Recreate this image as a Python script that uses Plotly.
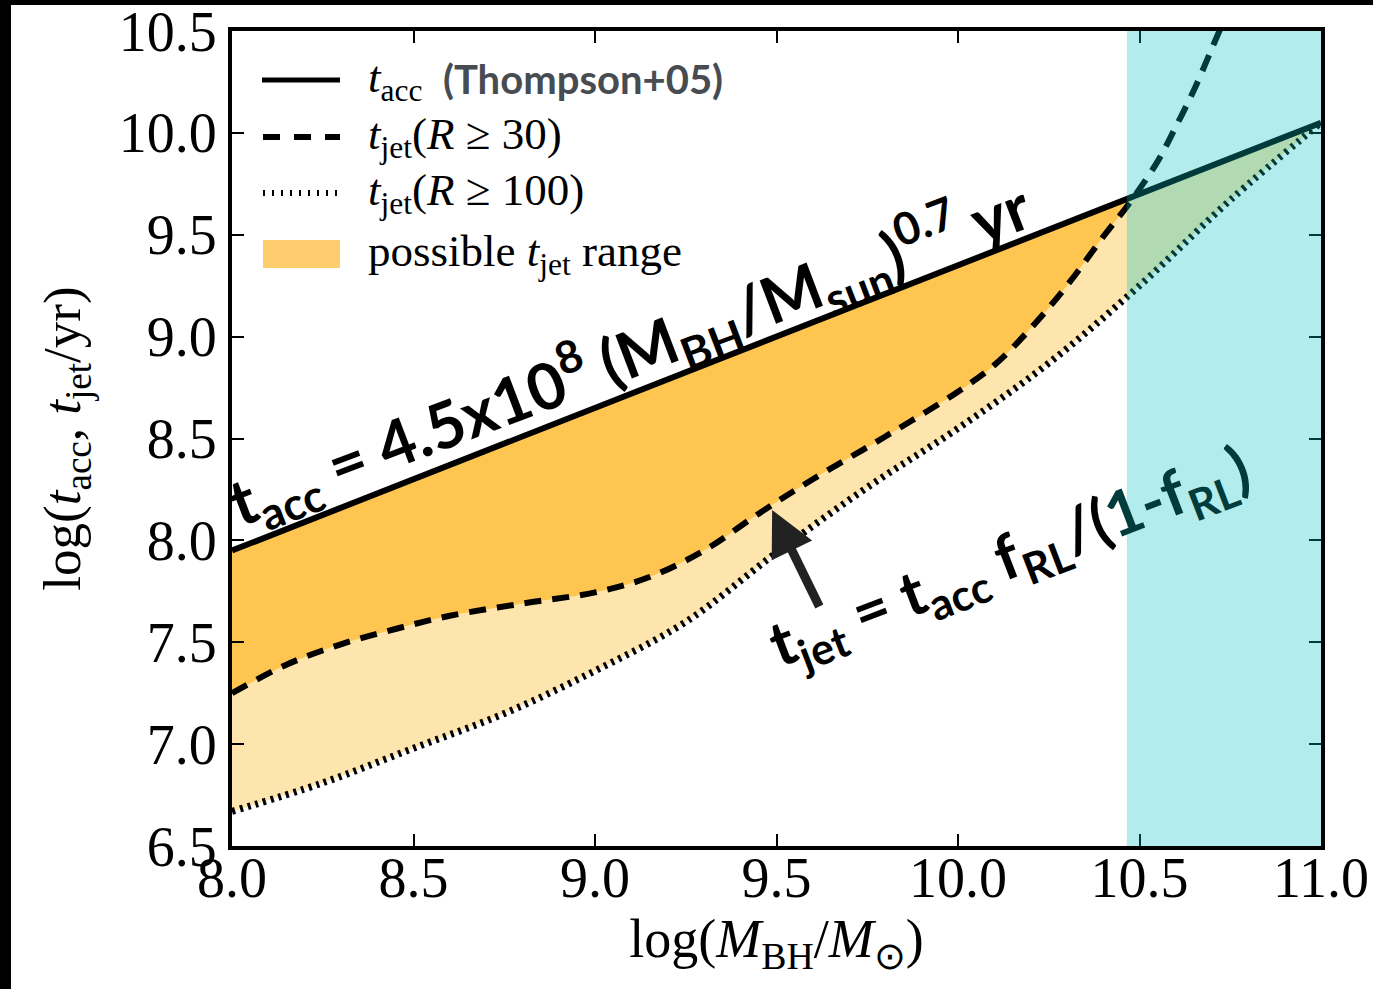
import plotly.graph_objects as go

# ---------------- data ----------------
X_TICKS = [8.0, 8.5, 9.0, 9.5, 10.0, 10.5, 11.0]
Y_TICKS = [6.5, 7.0, 7.5, 8.0, 8.5, 9.0, 9.5, 10.0, 10.5]

# t_acc (Thompson+05), solid line
SOLID_X = [8.0, 10.47, 11.0]
SOLID_Y = [7.95, 9.68, 10.05]

# t_jet (R >= 30), dashed
DASH_X = [8.0, 8.15, 8.3, 8.45, 8.6, 8.8, 9.0, 9.15, 9.3, 9.45, 9.6, 9.8, 10.0,
          10.1, 10.2, 10.3, 10.4, 10.47, 10.55, 10.6, 10.65, 10.72, 10.76]
DASH_Y = [7.25, 7.39, 7.49, 7.565, 7.63, 7.69, 7.745, 7.82, 7.95, 8.13, 8.30, 8.51, 8.73,
          8.86, 9.04, 9.25, 9.49, 9.65, 9.86, 10.03, 10.21, 10.5, 10.66]

# t_jet (R >= 100), dotted
DOT_X = [8.0, 8.25, 8.5, 8.75, 9.0, 9.25, 9.5, 9.75, 10.0, 10.25, 10.5, 10.75, 11.0]
DOT_Y = [6.67, 6.81, 6.98, 7.15, 7.36, 7.60, 7.94, 8.26, 8.55, 8.87, 9.25, 9.67, 10.05]

# cyan (excluded) mass range
CYAN_X0, CYAN_X1 = 10.465, 11.0

# arrow: head / tail positions
ARROW_HEAD = (9.488, 8.149)
ARROW_TAIL = (9.62, 7.668)

# ---------------- styles ----------------
LIGHT_ORANGE = "#FEE5AD"
DARK_ORANGE = "#FEC550"
SWATCH = "#FECE6E"
CYAN = "rgba(0,191,191,0.30)"
SERIF = "Liberation Serif"
SANS = "Lato"

fig = go.Figure()

# light fill: between dotted and solid
fig.add_trace(go.Scatter(x=DOT_X, y=DOT_Y, mode="lines", line=dict(width=0, shape="spline"),
                         showlegend=False, hoverinfo="skip"))
fig.add_trace(go.Scatter(x=SOLID_X, y=SOLID_Y, mode="lines", line=dict(width=0),
                         fill="tonexty", fillcolor=LIGHT_ORANGE, showlegend=False,
                         hoverinfo="skip"))
# dark fill: between dashed and solid (where dashed is below solid)
n_cut = sum(1 for v in DASH_X if v <= SOLID_X[1])
fig.add_trace(go.Scatter(x=DASH_X[:n_cut], y=DASH_Y[:n_cut], mode="lines",
                         line=dict(width=0, shape="spline"), showlegend=False, hoverinfo="skip"))
fig.add_trace(go.Scatter(x=SOLID_X[:2], y=SOLID_Y[:2], mode="lines", line=dict(width=0),
                         fill="tonexty", fillcolor=DARK_ORANGE, showlegend=False,
                         hoverinfo="skip"))

# lines
fig.add_trace(go.Scatter(x=DOT_X, y=DOT_Y, mode="lines",
                         line=dict(color="black", width=7, dash="3px,5px", shape="spline"),
                         showlegend=False))
fig.add_trace(go.Scatter(x=DASH_X, y=DASH_Y, mode="lines",
                         line=dict(color="black", width=6, dash="17px,11px", shape="spline"),
                         showlegend=False))
fig.add_trace(go.Scatter(x=SOLID_X, y=SOLID_Y, mode="lines",
                         line=dict(color="black", width=6), showlegend=False))

shapes = []
# cyan overlay above everything
shapes.append(dict(type="rect", xref="x", yref="y", x0=CYAN_X0, x1=CYAN_X1,
                   y0=Y_TICKS[0], y1=Y_TICKS[-1], fillcolor=CYAN, line=dict(width=0),
                   layer="above"))


def dx(px):
    return (px - 232) / 1089.0


def dy(py):
    return (846 - py) / 815.0


# legend samples
shapes.append(dict(type="line", xref="x domain", yref="y domain", x0=dx(262), x1=dx(340),
                   y0=dy(80), y1=dy(80), line=dict(color="black", width=5)))
shapes.append(dict(type="line", xref="x domain", yref="y domain", x0=dx(263), x1=dx(340),
                   y0=dy(137), y1=dy(137), line=dict(color="black", width=6, dash="17px,14px")))
shapes.append(dict(type="line", xref="x domain", yref="y domain", x0=dx(263), x1=dx(340),
                   y0=dy(193), y1=dy(193), line=dict(color="black", width=6, dash="2px,7px")))
shapes.append(dict(type="rect", xref="x domain", yref="y domain", x0=dx(263), x1=dx(340),
                   y0=dy(268), y1=dy(240), fillcolor=SWATCH, line=dict(width=0)))

# black image border (left and top)
shapes.append(dict(type="rect", xref="paper", yref="paper", x0=-232 / 1089, x1=(11 - 232) / 1089,
                   y0=-143 / 815, y1=846 / 815, fillcolor="black", line=dict(width=0)))
shapes.append(dict(type="rect", xref="paper", yref="paper", x0=-232 / 1089, x1=(1373 - 232) / 1089,
                   y0=(846 - 5) / 815, y1=846 / 815, fillcolor="black", line=dict(width=0)))

annotations = []
leg_font = dict(family=SERIF, size=45, color="black")
annotations.append(dict(xref="x domain", yref="y domain", x=dx(366), y=dy(80), xanchor="left",
                        yanchor="middle", showarrow=False, font=leg_font,
                        text="<i>t</i><sub>acc</sub>"))
annotations.append(dict(xref="x domain", yref="y domain", x=dx(441), y=dy(79), xanchor="left",
                        yanchor="middle", showarrow=False,
                        font=dict(family=SANS, size=40, color="#474c52", weight=700),
                        text="(Thompson+05)"))
annotations.append(dict(xref="x domain", yref="y domain", x=dx(366), y=dy(137), xanchor="left",
                        yanchor="middle", showarrow=False, font=leg_font,
                        text="<i>t</i><sub>jet</sub>(<i>R</i> \u2265 30)"))
annotations.append(dict(xref="x domain", yref="y domain", x=dx(366), y=dy(193), xanchor="left",
                        yanchor="middle", showarrow=False, font=leg_font,
                        text="<i>t</i><sub>jet</sub>(<i>R</i> \u2265 100)"))
annotations.append(dict(xref="x domain", yref="y domain", x=dx(366), y=dy(254), xanchor="left",
                        yanchor="middle", showarrow=False, font=leg_font,
                        text="possible <i>t</i><sub>jet</sub> range"))

# big equations
annotations.append(dict(x=9.094, y=8.915, xref="x", yref="y", showarrow=False, textangle=-20.8,
                        font=dict(family=SANS, size=64, color="black", weight=700),
                        text="t<sub>acc</sub> = 4.5x10<sup>8</sup> (M<sub>BH</sub>/M<sub>sun</sub>)"
                             "<sup>0.7</sup> yr"))
annotations.append(dict(x=10.144, y=7.909, xref="x", yref="y", showarrow=False, textangle=-21,
                        font=dict(family=SANS, size=62, color="black", weight=700),
                        text="t<sub>jet</sub> = t<sub>acc</sub> f<sub>RL</sub>/("
                             "<span style='color:#003c3c'>1-f<sub>RL</sub>)</span>"))
# arrow
annotations.append(dict(x=ARROW_HEAD[0], y=ARROW_HEAD[1], ax=ARROW_TAIL[0], ay=ARROW_TAIL[1],
                        xref="x", yref="y", axref="x", ayref="y", text="", showarrow=True,
                        arrowhead=2, arrowwidth=9, arrowsize=1.0, arrowcolor="#222222",
                        standoff=0))

axis_common = dict(showline=True, linewidth=4, linecolor="black", mirror="ticks",
                   ticks="inside", ticklen=12, tickwidth=2, tickcolor="black",
                   showgrid=False, zeroline=False, automargin=False,
                   tickfont=dict(family=SERIF, size=56, color="black"))

fig.update_layout(
    width=1373, height=989,
    margin=dict(l=232, r=52, t=31, b=143),
    paper_bgcolor="white", plot_bgcolor="white",
    xaxis=dict(range=[X_TICKS[0], X_TICKS[-1]], tickvals=X_TICKS,
               ticktext=[f"{v:.1f}" for v in X_TICKS], ticklabelstandoff=-20,
               title=dict(text="log(<i>M</i><sub>BH</sub>/<i>M</i><sub>\u2299</sub>)",
                          font=dict(family=SERIF, size=54, color="black"), standoff=0),
               **axis_common),
    yaxis=dict(range=[Y_TICKS[0], Y_TICKS[-1]], tickvals=Y_TICKS,
               ticktext=[f"{v:.1f}" for v in Y_TICKS],
               title=dict(text="log(<i>t</i><sub>acc</sub>, <i>t</i><sub>jet</sub>/yr)",
                          font=dict(family=SERIF, size=53, color="black"), standoff=22),
               **axis_common),
    shapes=shapes,
    annotations=annotations,
    showlegend=False,
)

fig.write_html("out.html", config={"displayModeBar": False},
               post_script="document.body.style.margin='0';"
                           "document.documentElement.style.margin='0';"
                           "document.body.style.overflow='hidden';"
                           "var gd=document.getElementById('{plot_id}');"
                           "gd.style.position='absolute';gd.style.top='0px';gd.style.left='0px';")
